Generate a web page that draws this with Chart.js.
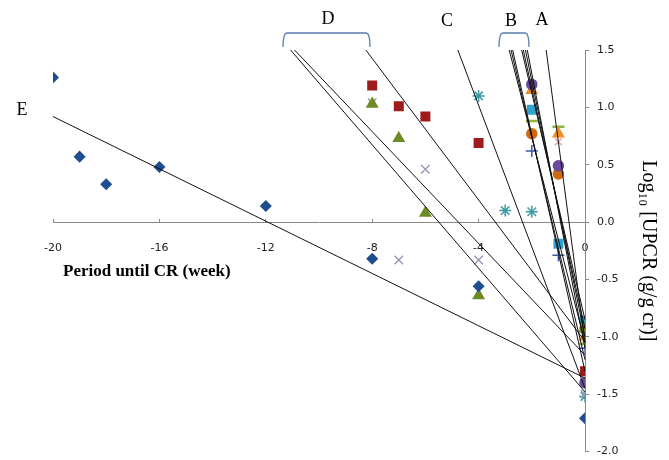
<!DOCTYPE html>
<html>
<head>
<meta charset="utf-8">
<script src="https://cdn.jsdelivr.net/npm/chart.js@4.4.1/dist/chart.umd.min.js"></script>
<style>
  html, body { margin: 0; padding: 0; background: #fff; }
  canvas { display: block; }
</style>
</head>
<body>
<canvas id="upcrChart" width="669" height="460"></canvas>
<script>
// weeks before complete remission (x) and log10 UPCR (y), one pair of arrays per patient
var weeksE = [-20, -19, -18, -16, -12, -8, -4, 0];
var logE = [1.26, 0.57, 0.33, 0.48, 0.14, -0.32, -0.56, -1.71];

var weeksD1 = [-8, -7, -6, -4, 0];
var logD1 = [1.19, 1.01, 0.92, 0.69, -1.30];
var weeksD2 = [-8, -7, -6, -4, 0];
var logD2 = [1.03, 0.73, 0.08, -0.64, -0.93];
var weeksD3 = [-8, -7, -6, -4, 0];
var logD3 = [1.04, -0.33, 0.46, -0.33, -1.50];

var weeksC = [-4, -3, -2, 0];
var logC = [1.10, 0.10, 0.09, -1.52];

var weeksB = [-2, -1, 0];
var logB1 = [1.20, 0.49, -1.40];
var logB2 = [1.15, 0.77, -1.00];
var logB3 = [0.98, -0.19, -0.86];
var logB4 = [0.88, 0.83, -1.06];
var logB5 = [0.77, 0.42, -0.93];
var logB6 = [0.62, -0.29, -1.10];

var weeksA = [-1, 0];
var logA = [0.70, -1.05];

// fitted lines: start point and value at week 0
var fitStartX = [-20, -11.07, -10.92, -8.24, -4.78, -2.85, -2.78, -2.72, -2.38, -2.32, -2.24, -2.17, -1.46];
var fitStartY = [0.92, 1.5, 1.5, 1.5, 1.5, 1.5, 1.5, 1.5, 1.5, 1.5, 1.5, 1.5, 1.5];
var fitEndY = [-1.36, -1.48, -1.16, -1.04, -1.45, -1.05, -1.20, -1.30, -0.85, -0.93, -1.00, -1.10, -1.05];

var xTicks = [-20, -16, -12, -8, -4, 0];
var yTicks = [-2.0, -1.5, -1.0, -0.5, 0.0, 0.5, 1.0, 1.5];

function pts(xs, ys) {
  return xs.map(function (x, i) { return { x: x, y: ys[i] }; });
}

var markerSets = [
  { data: pts(weeksE, logE), pointStyle: 'rectRot', radius: 5, color: '#1F4E8F' },
  { data: pts(weeksD1, logD1), pointStyle: 'rect', radius: 6, color: '#9E1C1C' },
  { data: pts(weeksD2, logD2), pointStyle: 'triangle', radius: 6, color: '#6E8B24' },
  { data: pts(weeksD3, logD3), pointStyle: 'crossRot', radius: 6, color: '#9A9AB8' },
  { data: pts(weeksC, logC), pointStyle: 'star', radius: 6, color: '#3C9CA6' },
  { data: pts(weeksB, logB1), pointStyle: 'circle', radius: 5, color: '#6A4A9A' },
  { data: pts(weeksB, logB2), pointStyle: 'triangle', radius: 6, color: '#F28C28' },
  { data: pts(weeksB, logB3), pointStyle: 'rect', radius: 6, color: '#2FA6D0' },
  { data: pts(weeksB, logB4), pointStyle: 'line', radius: 6, color: '#8CB63C' },
  { data: pts(weeksB, logB5), pointStyle: 'circle', radius: 5, color: '#D0680F' },
  { data: pts(weeksB, logB6), pointStyle: 'cross', radius: 6, color: '#3B5BA8' },
  { data: pts(weeksA, logA), pointStyle: 'crossRot', radius: 5, color: '#E8A6A6' }
].map(function (s) {
  return {
    data: s.data,
    showLine: false,
    pointStyle: s.pointStyle,
    pointRadius: s.radius,
    pointBackgroundColor: s.color,
    pointBorderColor: s.color,
    pointBorderWidth: s.pointStyle === 'line' ? 2.5 : 1.5,
    order: 2
  };
});

var fitLines = fitStartX.map(function (x0, i) {
  return {
    data: [{ x: x0, y: fitStartY[i] }, { x: 0, y: fitEndY[i] }],
    showLine: true,
    borderColor: '#111',
    borderWidth: 1,
    pointRadius: 0,
    clip: false,
    order: 1
  };
});

var overlay = {
  id: 'overlay',
  afterDraw: function (chart) {
    var c = chart.ctx;
    c.save();
    c.fillStyle = '#000';
    c.font = '18px "Liberation Serif"';
    c.textAlign = 'center';
    c.textBaseline = 'middle';
    [['E', 22, 110], ['D', 328, 19], ['C', 447, 21], ['B', 511, 21], ['A', 542, 20]].forEach(function (l) {
      c.fillText(l[0], l[1], l[2]);
    });

    c.strokeStyle = '#5B7FB0';
    c.lineWidth = 1.3;
    [[283, 370], [499, 529]].forEach(function (b) {
      c.beginPath();
      c.moveTo(b[0], 47);
      c.quadraticCurveTo(b[0], 33, b[0] + 4, 33);
      c.lineTo(b[1] - 4, 33);
      c.quadraticCurveTo(b[1], 33, b[1], 47);
      c.stroke();
    });

    c.font = 'bold 17px "Liberation Serif"';
    c.textAlign = 'left';
    c.fillText('Period until CR (week)', 63, 272);
    c.restore();
  }
};

new Chart(document.getElementById('upcrChart'), {
  type: 'scatter',
  data: { datasets: fitLines.concat(markerSets) },
  options: {
    responsive: false,
    animation: false,
    layout: { padding: { left: 53, top: 50, right: 0, bottom: 5 } },
    plugins: { legend: { display: false }, tooltip: { enabled: false } },
    scales: {
      x: {
        type: 'linear',
        min: -20,
        max: 0,
        position: { y: 0 },
        grid: { drawOnChartArea: false, tickLength: -4, color: '#888' },
        border: { color: '#888', width: 1 },
        afterBuildTicks: function (s) { s.ticks = xTicks.map(function (v) { return { value: v }; }); },
        afterFit: function (s) { s.paddingTop = 0; s.paddingBottom = 0; },
        ticks: { padding: 23, color: '#222', font: { family: 'DejaVu Sans', size: 11 } }
      },
      y: {
        type: 'linear',
        min: -2,
        max: 1.5,
        position: 'right',
        grid: { drawOnChartArea: false, tickLength: 4, color: '#888' },
        border: { color: '#888', width: 1 },
        afterBuildTicks: function (s) { s.ticks = yTicks.map(function (v) { return { value: v }; }); },
        ticks: {
          padding: 8,
          color: '#222',
          font: { family: 'DejaVu Sans', size: 11 },
          callback: function (v) { return v.toFixed(1); }
        },
        title: {
          display: true,
          text: 'Log\u2081\u2080 [UPCR (g/g cr)]',
          color: '#000',
          font: { family: 'Liberation Serif', size: 20 },
          padding: { top: 9, bottom: 0 }
        },
        afterFit: function (s) { s.width = 84; s.paddingTop = 0; s.paddingBottom = 0; }
      }
    }
  },
  plugins: [overlay]
});
</script>
</body>
</html>
